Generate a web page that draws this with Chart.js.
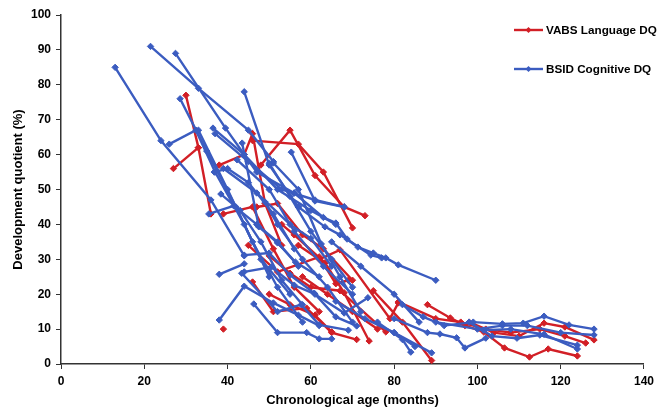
<!DOCTYPE html>
<html><head><meta charset="utf-8">
<script src="https://cdn.jsdelivr.net/npm/chart.js@4/dist/chart.umd.min.js"></script>
<style>html,body{margin:0;padding:0;background:#fff}#wrap{width:659px;height:414px}</style>
</head><body><div id="wrap"><canvas id="c" width="659" height="414"></canvas></div>
<script>
const xTicks = [0,20,40,60,80,100,120,140];
const yTicks = [0,10,20,30,40,50,60,70,80,90,100];
const seriesNames = ["VABS Language DQ","BSID Cognitive DQ"];

// BSID Cognitive DQ trajectories: [age, DQ] per subject
const bsid = [
 [[13,85],[24,64],[36,47],[44,31]],
 [[21.5,91],[33,79],[45,67],[51,58]],
 [[27.5,89],[39.5,67.6],[47,55],[56,49]],
 [[44,78],[50,57],[57,45]],
 [[28.6,76],[35,61],[42,45],[48,30],[55,20]],
 [[26,63],[32.4,67],[37,55],[44,40],[50,25]],
 [[36.5,67.6],[44,60],[52,50],[60,44],[66,40]],
 [[37,66],[45,58],[53,50],[61,47],[68,45]],
 [[36.8,55],[40,56],[45,52],[51,43],[56,33]],
 [[35.5,43],[41.5,45.3],[47,40],[52,35],[57,28]],
 [[38.4,48.7],[43,44],[48,35],[53,24],[58,17]],
 [[38,25.7],[44,28.7]],
 [[38,12.6],[44,22.3],[51,17.5],[57,14],[62,11]],
 [[44,26.4],[50.5,27.8],[56,22.6],[61,20],[68,14.6],[73.7,19]],
 [[46.3,17.2],[52,9],[59,9],[62,7.2],[65,7.2]],
 [[55.3,60.7],[61,46.7],[68,45]],
 [[56,49],[63,42],[66,40.4],[68.7,35.8],[71.3,33.5],[75,31.8],[78,30.4],[81,28.4],[90,24]],
 [[57,45],[63.4,39.3],[67,37],[74.4,31.2],[77,30.4]],
 [[50,57.5],[55,48],[60,38],[65,30],[70,22]],
 [[51,57.6],[57,50],[62.5,34.4],[67,25],[72,15]],
 [[43.5,63.3],[47.5,39.3],[52,34.7],[56.3,29.2],[62,25]],
 [[42.3,58.5],[50,50],[56,38],[63,28],[70,20]],
 [[49,46.4],[52,40],[58,30],[64,22],[70,12]],
 [[44,31.2],[50,31.8],[55,25.5],[60.8,20.3],[66,13.5],[71,10.9]],
 [[43.4,26],[52,15],[57.7,17],[62,11.2],[69,9.7]],
 [[82,17],[87,13.5],[92,11],[99,12],[106,11.5],[111,11.7],[116,13.7],[122,11.2],[128,10]],
 [[80,13],[88,9],[91,8.6],[95,7.5],[97,4.6],[102,7.4]],
 [[76,12],[82,7],[84,3.4]],
 [[80,9],[89,3.2]],
 [[98,12],[103.5,8],[109.5,7.4],[115,8.3],[124,5.4]],
 [[90,12],[101.5,9.7],[108,10],[116,8.5],[124,4.3]],
 [[100,10],[106,11],[112,11],[120,9],[128,8.3]],
 [[39,56],[47,49],[55,40],[60,36],[65,28]],
 [[33,67],[40,50],[46,35],[52,22],[58,12]],
 [[65,35],[72,28],[80,20],[86,12]],
 [[66,18],[73,13],[80,9],[85,5]]
];

// VABS Language DQ trajectories
const vabs = [
 [[30,77],[33,62],[36,43]],
 [[27,56],[33,62]],
 [[38,57],[44,60],[46,66],[49,46],[53,34]],
 [[39,43],[46,45],[51,33],[56,22],[62,15]],
 [[48,57],[55,67],[61,54],[68,45],[73,42.5]],
 [[46,64],[57,63],[63,55],[70,39]],
 [[39,10]],
 [[46,23.5],[51,15],[59,16],[65,9],[71,7]],
 [[45,34],[52,26.4],[62,30.7],[66,23],[69,24]],
 [[53,40],[56,37],[63.4,29],[68,20.4],[74,6.6]],
 [[57,34],[62,30],[67,32.7],[79,13],[81,17.5]],
 [[50,31],[55,26],[60,22],[67,21],[78,9.2]],
 [[88,17],[93.5,13.2],[97,11],[101.5,9.2],[106.5,4.6],[112.5,2],[117,4.3],[124,2.3]],
 [[75,21],[82,12],[89,1]],
 [[98,12],[104,9],[110,8],[116,11.7],[121,10.6],[128,6.9]],
 [[81,17.8],[90,13],[96,12],[102,10],[108,9],[115,10],[121,8],[126,6]],
 [[47,45],[52,46],[58,37],[63,33],[70,24]],
 [[58,25],[64,20],[70,15],[76,10]],
 [[50,20],[55,17],[61,14],[65,9.2]]
];

const RED = '#d21f26', BLUE = '#3b5cc0';
const FONT = "'Liberation Sans', Arial, sans-serif";

function mk(traj, color, name) {
  return {
    label: name,
    data: traj.map(p => ({x: p[0], y: p[1]})),
    borderColor: color, backgroundColor: color,
    borderWidth: 2.4, pointStyle: 'rectRot', pointRadius: 3.2,
    pointBorderWidth: 1, tension: 0, showLine: true, fill: false
  };
}
const datasets = [];
bsid.forEach(t => datasets.push(mk(t, BLUE, seriesNames[1])));
vabs.forEach(t => datasets.push(mk(t, RED, seriesNames[0])));

const legendPlugin = {
  id: 'customLegend',
  afterDraw(chart) {
    const ctx = chart.ctx;
    const items = [[seriesNames[0], RED, 30], [seriesNames[1], BLUE, 69]];
    ctx.save();
    items.forEach(([t, c, y]) => {
      ctx.strokeStyle = c; ctx.lineWidth = 2.4;
      ctx.beginPath(); ctx.moveTo(514, y); ctx.lineTo(543, y); ctx.stroke();
      ctx.fillStyle = c; ctx.beginPath();
      ctx.moveTo(528.5, y-3); ctx.lineTo(531.5, y); ctx.lineTo(528.5, y+3); ctx.lineTo(525.5, y); ctx.closePath(); ctx.fill();
      ctx.fillStyle = '#000'; ctx.font = "bold 11.7px " + FONT;
      ctx.textBaseline = 'middle'; ctx.textAlign = 'left';
      ctx.fillText(t, 546, y + 0.5);
    });
    ctx.restore();
  }
};

new Chart(document.getElementById('c'), {
  type: 'scatter',
  data: { datasets },
  options: {
    responsive: false, animation: false,
    layout: { padding: { top: 15, right: 11, left: 0, bottom: 0 } },
    plugins: { legend: { display: false }, tooltip: { enabled: false } },
    scales: {
      x: {
        type: 'linear', min: 0, max: 140,
        afterBuildTicks: s => { s.ticks = xTicks.map(v => ({value: v})); },
        afterFit: s => { s.height = 50; },
        grid: { display: true, drawOnChartArea: false, drawTicks: true, tickLength: 5, color: '#333' },
        border: { display: true, color: '#333', width: 1.5 },
        ticks: { color: '#000', font: { family: FONT, size: 12, weight: 'bold' }, padding: 5, maxRotation: 0 },
        title: { display: true, text: 'Chronological age (months)', color: '#000', font: { family: FONT, size: 13, weight: 'bold' }, padding: { top: 0, bottom: 6 } }
      },
      y: {
        type: 'linear', min: 0, max: 100,
        afterBuildTicks: s => { s.ticks = yTicks.map(v => ({value: v})); },
        afterFit: s => { s.width = 61; },
        grid: { display: true, drawOnChartArea: false, drawTicks: true, tickLength: 5, color: '#333' },
        border: { display: true, color: '#333', width: 1.5 },
        ticks: { color: '#000', font: { family: FONT, size: 12, weight: 'bold' }, padding: 5 },
        title: { display: true, text: 'Development quotient (%)', color: '#000', font: { family: FONT, size: 13, weight: 'bold' }, padding: { top: 11, bottom: 0 } }
      }
    }
  },
  plugins: [legendPlugin]
});
</script></body></html>
